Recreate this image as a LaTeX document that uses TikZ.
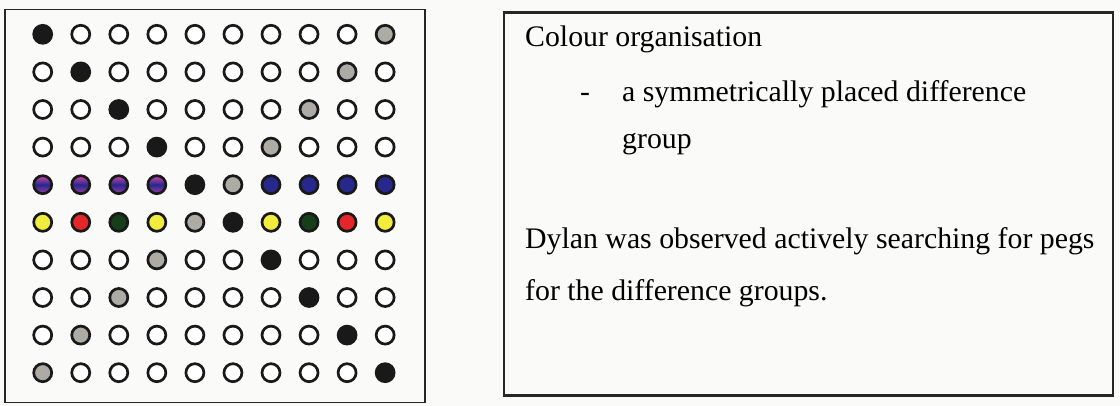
\documentclass[tikz,border=0pt]{standalone}
\usepackage{fontspec}
\setmainfont{Liberation Serif}
\definecolor{bgc}{RGB}{250,250,248}
\definecolor{pk}{RGB}{25,25,25}
\definecolor{pg}{RGB}{172,172,165}
\definecolor{py}{RGB}{242,236,60}
\definecolor{pr}{RGB}{228,38,40}
\definecolor{pd}{RGB}{22,62,24}
\definecolor{pb}{RGB}{38,40,140}
\definecolor{pm}{RGB}{210,70,170}
\begin{document}
\begin{tikzpicture}[x=1pt,y=-1pt,
  peg/.style={circle, draw=black!90, line width=2.7pt, minimum size=18pt, inner sep=0pt},
  pegw/.style={fill=white},
  pegk/.style={fill=pk},
  pegg/.style={fill=pg},
  pegy/.style={fill=py},
  pegr/.style={fill=pr},
  pegd/.style={fill=pd},
  pegb/.style={fill=pb},
  pegm/.style={top color=pm, bottom color=pm!70!pb, middle color=pb},
  frame/.style={draw=black!85, inner sep=0pt},
  txt/.style={anchor=base west, inner sep=0pt, font=\fontsize{29.8}{35}\selectfont}]
\useasboundingbox (0,0) rectangle (1120,406);
\fill[bgc] (0,0) rectangle (1120,406);
\node[frame, line width=1.5pt, minimum width=420pt, minimum height=393pt] (leftbox) at (215,206) {};
\node[frame, line width=2.4pt, minimum width=609pt, minimum height=383pt] (rightbox) at (808.5,204) {};
\foreach \row [count=\j from 0] in {
  {k,w,w,w,w,w,w,w,w,g},
  {w,k,w,w,w,w,w,w,g,w},
  {w,w,k,w,w,w,w,g,w,w},
  {w,w,w,k,w,w,g,w,w,w},
  {m,m,m,m,k,g,b,b,b,b},
  {y,r,d,y,g,k,y,d,r,y},
  {w,w,w,g,w,w,k,w,w,w},
  {w,w,g,w,w,w,w,k,w,w},
  {w,g,w,w,w,w,w,w,k,w},
  {g,w,w,w,w,w,w,w,w,k}} {
  \foreach \c [count=\i from 0] in \row {
    \node[peg, peg\c] (c\j-\i) at ({42.7+38.05*\i},{34.3+37.6*\j}) {};
  }
}
\node[txt] (t1) at (525,46.7) {Colour organisation};
\node[txt] (t2) at (580,101.7) {-};
\node[txt] (t3) at (622,101.7) {a symmetrically placed difference};
\node[txt] (t4) at (622,148.3) {group};
\node[txt] (t5) at (525,249) {Dylan was observed actively searching for pegs};
\node[txt] (t6) at (525,301) {for the difference groups.};
\end{tikzpicture}
\end{document}
